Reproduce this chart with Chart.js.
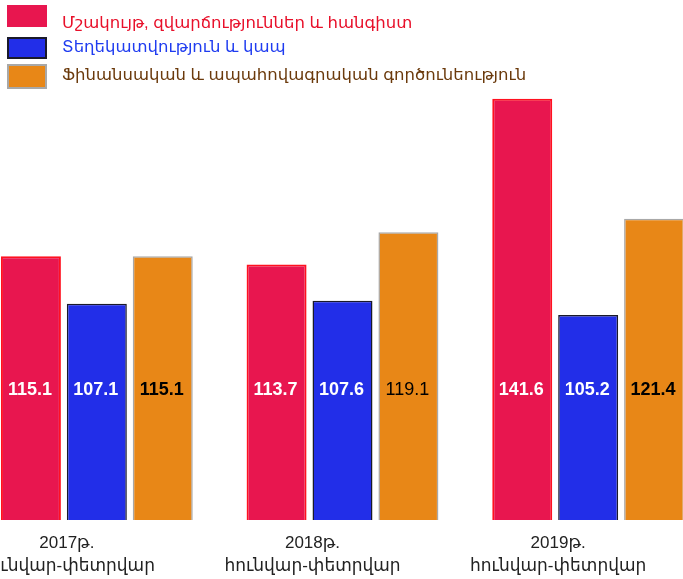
<!DOCTYPE html>
<html>
<head>
<meta charset="utf-8">
<script src="https://cdn.jsdelivr.net/npm/chart.js@4.4.1/dist/chart.umd.min.js"></script>
<style>
  html, body { margin: 0; padding: 0; background: #ffffff; overflow: hidden; }
  body { width: 683px; height: 579px; position: relative; }
  #wrap { position: absolute; left: -26px; top: 0; width: 737px; height: 579px; }
  #legend { position: absolute; left: 0; top: 0; width: 683px; height: 100px; font-family: "Liberation Sans", "DejaVu Sans", sans-serif; font-size: 16.5px; }
  .sw { position: absolute; left: 7px; width: 40px; height: 22px; box-sizing: border-box; }
  .tx { position: absolute; left: 62px; line-height: 20px; white-space: nowrap; }
</style>
</head>
<body>
<div id="wrap"><canvas id="c"></canvas></div>
<div id="legend"></div>
<script>
const categories = [["2017թ.", "հունվար-փետրվար"], ["2018թ.", "հունվար-փետրվար"], ["2019թ.", "հունվար-փետրվար"]];
const seriesNames = ["Մշակույթ, զվարճություններ և հանգիստ", "Տեղեկատվություն և կապ", "Ֆինանսական և ապահովագրական գործունեություն"];
const cultureValues = [115.1, 113.7, 141.6];
const infoValues = [107.1, 107.6, 105.2];
const financeValues = [115.1, 119.1, 121.4];

const fills = ["#e8164f", "#222ee8", "#e88717"];
const borders = ["#ff1020", "#1a1a2a", "#a8a8a8"];
const textColors = ["#e8102a", "#1f3cf0", "#6b3a0c"];
const labelColors = ["#ffffff", "#ffffff", "#000000"];
const labelWeights = [["bold", "bold", "bold"], ["bold", "bold", "bold"], ["bold", "normal", "bold"]];

const seriesValues = [cultureValues, infoValues, financeValues];

// HTML legend
const swatchTops = [5, 37, 64];
const swatchHeights = [22, 22, 25];
const textTops = [11.5, 35.5, 63.5];
const legend = document.getElementById('legend');
seriesNames.forEach((n, i) => {
  const sw = document.createElement('div'); sw.className = 'sw';
  sw.style.top = swatchTops[i] + 'px';
  sw.style.height = swatchHeights[i] + 'px';
  sw.style.background = fills[i];
  sw.style.border = i === 0 ? 'none' : ('2px solid ' + borders[i]);
  const tx = document.createElement('div'); tx.className = 'tx';
  tx.style.top = textTops[i] + 'px';
  tx.style.color = textColors[i]; tx.textContent = n;
  legend.appendChild(sw); legend.appendChild(tx);
});

const valueLabels = {
  id: 'valueLabels',
  afterDatasetsDraw(chart) {
    const ctx = chart.ctx;
    ctx.save();
    ctx.textAlign = 'center';
    ctx.textBaseline = 'middle';
    chart.data.datasets.forEach((ds, di) => {
      const meta = chart.getDatasetMeta(di);
      meta.data.forEach((el, i) => {
        ctx.font = labelWeights[di][i] + ' 18px "Liberation Sans", Arial, sans-serif';
        ctx.fillStyle = labelColors[di];
        ctx.fillText(ds.data[i].toFixed(1), el.x - 1, chart.chartArea.bottom - 130);
      });
    });
    ctx.restore();
  }
};

new Chart(document.getElementById('c'), {
  type: 'bar',
  data: {
    labels: categories,
    datasets: seriesValues.map((vals, i) => ({
      label: seriesNames[i],
      data: vals,
      backgroundColor: fills[i],
      borderColor: borders[i],
      borderWidth: i === 0 ? 2 : 1.5,
      borderSkipped: false,
      barPercentage: 0.91,
      categoryPercentage: 0.805
    }))
  },
  options: {
    responsive: true,
    maintainAspectRatio: false,
    animation: false,
    layout: { padding: 0 },
    plugins: { legend: { display: false }, tooltip: { enabled: false } },
    scales: {
      x: {
        grid: { display: false, drawTicks: false, drawOnChartArea: false },
        border: { display: false },
        ticks: {
          color: '#222222',
          font: { family: '"Liberation Sans", "DejaVu Sans", sans-serif', size: 17, lineHeight: 1.35 },
          padding: 12,
          labelOffset: -30,
          maxRotation: 0,
          autoSkip: false
        },
        afterFit(scale) { scale.height = 59; }
      },
      y: {
        display: false,
        min: 70.7,
        max: 158.2
      }
    }
  },
  plugins: [valueLabels]
});
</script>
</body>
</html>
